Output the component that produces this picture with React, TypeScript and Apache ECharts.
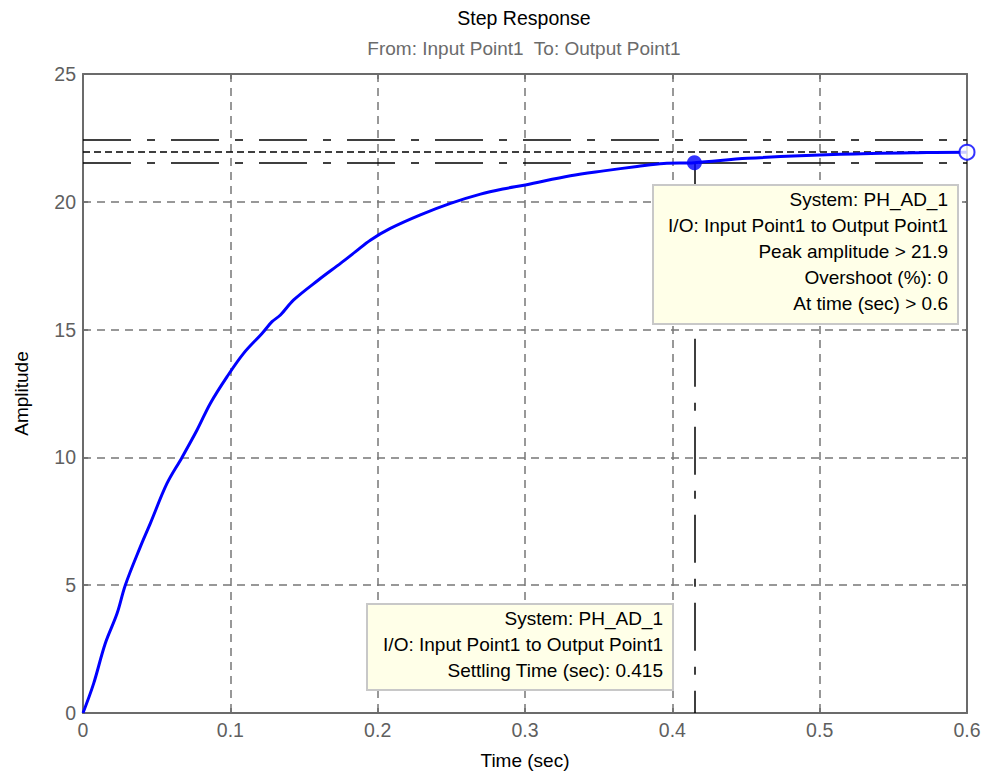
import React, { useEffect, useRef } from "react";
import * as echarts from "echarts";

// ---- data ----
const timeSec = [
  0, 0.0072, 0.0151, 0.0231, 0.0287, 0.0389, 0.0457, 0.057, 0.0672, 0.0774,
  0.0864, 0.0978, 0.109, 0.1215, 0.1283, 0.134, 0.143, 0.16, 0.175, 0.185,
  0.195, 0.2086, 0.229, 0.2494, 0.2698, 0.285, 0.3003, 0.3308, 0.3534, 0.3761,
  0.3942, 0.415, 0.451, 0.514, 0.573, 0.6,
];
const amplitude = [
  0, 1.15, 2.72, 3.89, 5.0, 6.5, 7.42, 8.98, 10.0, 11.07,
  12.11, 13.16, 14.07, 14.85, 15.31, 15.57, 16.16, 16.95, 17.6, 18.05,
  18.5, 18.96, 19.49, 19.94, 20.3, 20.5, 20.66, 21.02, 21.21, 21.38,
  21.5, 21.53, 21.7, 21.86, 21.93, 21.94,
];
const finalValue = 21.97;
const bandUpper = 22.41;
const bandLower = 21.53;
const settlingTime = 0.415;
const settlingValue = 21.53;
const peakTime = 0.6;
const peakValue = 21.94;

const titleText = "Step Response";
const subtitleText = "From: Input Point1  To: Output Point1";
const xName = "Time (sec)";
const yName = "Amplitude";
const peakBoxLines = [
  "System: PH_AD_1",
  "I/O: Input Point1 to Output Point1",
  "Peak amplitude > 21.9",
  "Overshoot (%): 0",
  "At time (sec) > 0.6",
];
const settleBoxLines = [
  "System: PH_AD_1",
  "I/O: Input Point1 to Output Point1",
  "Settling Time (sec): 0.415",
];

const FONT = "Liberation Sans, Arial, Helvetica, sans-serif";
const GRAY = "#6b6b6b";
const DASH_DOT = [48, 16, 8, 16];

export default function App() {
  const ref = useRef<HTMLDivElement>(null);
  useEffect(() => {
    if (!ref.current) return;
    const chart = echarts.init(ref.current, undefined, { renderer: "svg" });
    const curve = timeSec.map((t, i) => [t, amplitude[i]]);
    const axisCommon = {
      type: "value" as const,
      axisLine: { show: true, onZero: false, lineStyle: { color: GRAY, width: 2 } },
      axisTick: { show: true, inside: true, length: 5, lineStyle: { color: GRAY, width: 1.5 } },
    };
    chart.setOption({
      animation: false,
      backgroundColor: "#ffffff",
      grid: { left: 83, right: 21, top: 74, bottom: 64, containLabel: false },
      xAxis: [
        {
          ...axisCommon,
          min: 0,
          max: 0.6,
          interval: 0.1,
          position: "bottom",
          axisLabel: { color: "#5f5f5f", fontSize: 19.5, fontFamily: FONT, margin: 7 },
          splitLine: { show: true, lineStyle: { color: "#777777", width: 1.5, type: [8, 6] } },
          name: xName,
          nameLocation: "middle",
          nameGap: 38,
          nameTextStyle: { color: "#000", fontSize: 19, fontFamily: FONT },
        },
        {
          ...axisCommon,
          min: 0,
          max: 0.6,
          interval: 0.1,
          position: "top",
          axisLabel: { show: false },
          splitLine: { show: false },
        },
      ],
      yAxis: [
        {
          ...axisCommon,
          min: 0,
          max: 25,
          interval: 5,
          position: "left",
          axisLabel: { color: "#5f5f5f", fontSize: 19.5, fontFamily: FONT, margin: 7 },
          splitLine: { show: true, lineStyle: { color: "#777777", width: 1.5, type: [8, 6] } },
          name: yName,
          nameLocation: "middle",
          nameGap: 52,
          nameRotate: 90,
          nameTextStyle: { color: "#000", fontSize: 19, fontFamily: FONT },
        },
        {
          ...axisCommon,
          min: 0,
          max: 25,
          interval: 5,
          position: "right",
          axisLabel: { show: false },
          splitLine: { show: false },
        },
      ],
      series: [
        {
          type: "line",
          data: curve,
          showSymbol: false,
          smooth: 0.35,
          lineStyle: { color: "#0000ff", width: 3 },
          itemStyle: { color: "#0000ff" },
          z: 5,
          markLine: {
            silent: true,
            symbol: ["none", "none"],
            label: { show: false },
            z: 4,
            data: [
              { yAxis: bandUpper, lineStyle: { color: "#000", width: 1.5, type: DASH_DOT } },
              { yAxis: finalValue, lineStyle: { color: "#000", width: 1.5, type: [7, 4] } },
              { yAxis: bandLower, lineStyle: { color: "#000", width: 1.5, type: DASH_DOT } },
              [
                { coord: [settlingTime, settlingValue], lineStyle: { color: "#000", width: 1.5, type: DASH_DOT } },
                { coord: [settlingTime, 0] },
              ],
            ],
          },
        },
        {
          type: "scatter",
          data: [[settlingTime, settlingValue]],
          symbol: "circle",
          symbolSize: 15,
          clip: false,
          itemStyle: { color: "#0000ff" },
          z: 6,
        },
        {
          type: "scatter",
          data: [[peakTime, peakValue]],
          symbol: "circle",
          symbolSize: 15,
          clip: false,
          itemStyle: { color: "#ffffff", borderColor: "#0000ff", borderWidth: 2 },
          z: 6,
        },
      ],
      graphic: [
        {
          type: "text",
          x: 524,
          y: 18,
          style: { text: titleText, fill: "#000", font: `19.5px ${FONT}`, align: "center", verticalAlign: "middle" },
        },
        {
          type: "text",
          x: 524,
          y: 48,
          style: { text: subtitleText, fill: "#6b6b6b", font: `19px ${FONT}`, align: "center", verticalAlign: "middle" },
        },
        {
          type: "rect",
          z: 100,
          zlevel: 0,
          shape: { x: 653, y: 185, width: 305, height: 139 },
          style: { fill: "#ffffe8", stroke: "#c8c8c8", lineWidth: 2 },
        },
        {
          type: "text",
          z: 101,
          x: 948,
          y: 187,
          style: {
            text: peakBoxLines.join("\n"),
            fill: "#000",
            font: `19px ${FONT}`,
            align: "right",
            verticalAlign: "top",
            lineHeight: 25.8,
          },
        },
        {
          type: "rect",
          z: 100,
          shape: { x: 367, y: 604, width: 306, height: 86 },
          style: { fill: "#ffffe8", stroke: "#c8c8c8", lineWidth: 2 },
        },
        {
          type: "text",
          z: 101,
          x: 663,
          y: 605,
          style: {
            text: settleBoxLines.join("\n"),
            fill: "#000",
            font: `19px ${FONT}`,
            align: "right",
            verticalAlign: "top",
            lineHeight: 26,
          },
        },
      ],
    });
    return () => chart.dispose();
  }, []);
  return (
    <div
      ref={ref}
      style={{ position: "absolute", left: 0, top: 0, width: 988, height: 777 }}
    />
  );
}
